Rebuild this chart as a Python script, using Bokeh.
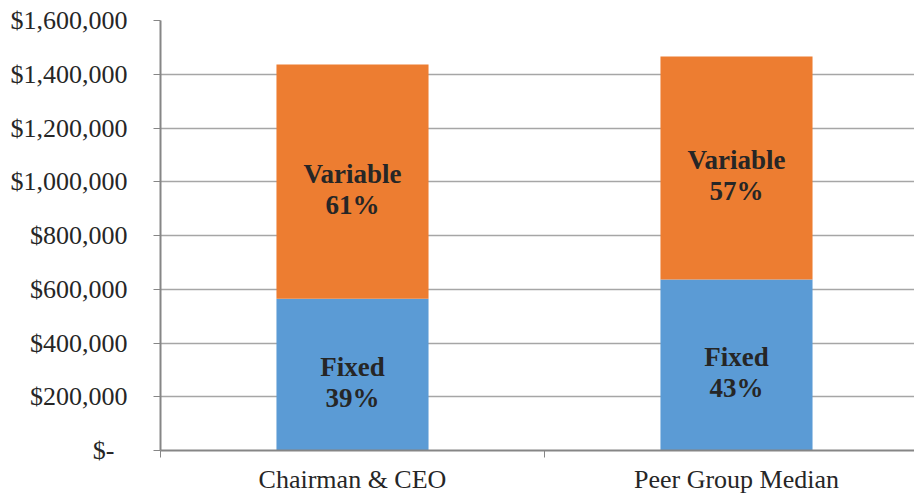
from bokeh.plotting import figure
from bokeh.models import FixedTicker, Range1d, ColumnDataSource
from bokeh.core.properties import value
from bokeh.embed import file_html
from bokeh.resources import INLINE

categories = ["Chairman & CEO", "Peer Group Median"]
fixed = [565000, 636000]
variable = [871000, 830000]
fixed_labels = ["Fixed", "Fixed"]
fixed_pct = ["39%", "43%"]
variable_labels = ["Variable", "Variable"]
variable_pct = ["61%", "57%"]
y_ticks = [0, 200000, 400000, 600000, 800000, 1000000, 1200000, 1400000, 1600000]
y_tick_labels = ["$-\u2002", "$200,000", "$400,000", "$600,000", "$800,000",
                 "$1,000,000", "$1,200,000", "$1,400,000", "$1,600,000"]

BLUE = "#5B9BD5"
ORANGE = "#ED7D31"
GRID = "#A6A6A6"
AXIS = "#868686"
TEXT = "#262626"
FONT = "Liberation Serif"

xs = [i + 0.5 for i in range(len(categories))]
totals = [f + v for f, v in zip(fixed, variable)]
fixed_mid = [f / 2 for f in fixed]
var_mid = [f + v / 2 for f, v in zip(fixed, variable)]

src = ColumnDataSource(dict(x=xs, fixed=fixed, total=totals, fmid=fixed_mid, vmid=var_mid,
                            fl=fixed_labels, fp=fixed_pct, vl=variable_labels, vp=variable_pct))

W, H = 914, 496
p = figure(width=W, height=H, output_backend="svg", toolbar_location=None,
           x_range=Range1d(0, (W - 160) / 384), y_range=Range1d(0, 1600000),
           min_border_left=160, min_border_right=0, min_border_top=20, min_border_bottom=46)
p.outline_line_color = None
p.background_fill_color = "white"
p.border_fill_color = "white"

p.vbar(x="x", width=0.396, bottom=0, top="fixed", source=src, fill_color=BLUE, line_color=None)
p.vbar(x="x", width=0.396, bottom="fixed", top="total", source=src, fill_color=ORANGE, line_color=None)

common = dict(source=src, text_align="center", text_baseline="middle",
              text_font=value(FONT), text_font_size="27px", text_font_style="bold",
              text_color=TEXT)
p.text(x="x", y="vmid", text="vl", y_offset=-8, **common)
p.text(x="x", y="vmid", text="vp", y_offset=23, **common)
p.text(x="x", y="fmid", text="fl", y_offset=-8, **common)
p.text(x="x", y="fmid", text="fp", y_offset=23, **common)

# y axis
p.yaxis.ticker = FixedTicker(ticks=y_ticks)
p.yaxis.major_label_overrides = {t: l for t, l in zip(y_ticks, y_tick_labels)}
p.yaxis.major_label_text_font = FONT
p.yaxis.major_label_text_font_size = "26px"
p.yaxis.major_label_text_color = TEXT
p.yaxis.axis_line_color = AXIS
p.yaxis.axis_line_width = 2
p.yaxis.major_tick_line_color = AXIS
p.yaxis.major_tick_out = 7
p.yaxis.major_tick_in = 0
p.yaxis.minor_tick_line_color = None
p.yaxis.major_label_standoff = 26

# x axis
p.xaxis.ticker = FixedTicker(ticks=xs, minor_ticks=[0, 1, 2])
p.xaxis.major_label_overrides = {x: c for x, c in zip(xs, categories)}
p.xaxis.major_label_text_font = FONT
p.xaxis.major_label_text_font_size = "26px"
p.xaxis.major_label_text_color = TEXT
p.xaxis.axis_line_color = AXIS
p.xaxis.axis_line_width = 2
p.xaxis.major_tick_line_color = None
p.xaxis.major_tick_out = 0
p.xaxis.minor_tick_line_color = AXIS
p.xaxis.minor_tick_out = 7
p.xaxis.minor_tick_in = 0
p.xaxis.major_label_standoff = 7

p.xgrid.grid_line_color = None
p.ygrid.grid_line_color = GRID
p.ygrid.grid_line_width = 1.5

open("out.html", "w").write(file_html(p, INLINE))
